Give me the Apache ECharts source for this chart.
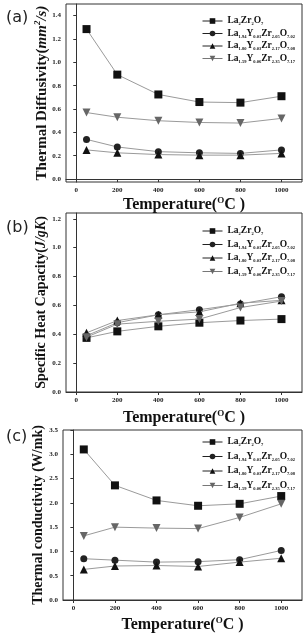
<!DOCTYPE html>
<html>
<head>
<meta charset="utf-8">
<script src="https://cdn.jsdelivr.net/npm/echarts@6/dist/echarts.min.js"></script>
<style>
  html, body { margin: 0; padding: 0; background: #fff; }
  #chart { width: 305px; height: 634px; }
</style>
</head>
<body>
<div id="chart"></div>
<script>
// 温度 (°C)
var temps = [50, 200, 400, 600, 800, 1000];
var xTicks = [0, 200, 400, 600, 800, 1000];

// 图例名称 (化学式，下标分段)
var names = ['La2Zr2O7', 'La1.94Y0.01Zr2.05O7.02', 'La1.80Y0.03Zr2.17O7.08', 'La1.59Y0.06Zr2.35O7.17'];
var formulaParts = [
    ['La', '2', 'Zr', '2', 'O', '7'],
    ['La', '1.94', 'Y', '0.01', 'Zr', '2.05', 'O', '7.02'],
    ['La', '1.80', 'Y', '0.03', 'Zr', '2.17', 'O', '7.08'],
    ['La', '1.59', 'Y', '0.06', 'Zr', '2.35', 'O', '7.17']
];

// (a) 热扩散系数
var diffLZ = [1.285, 0.895, 0.725, 0.66, 0.655, 0.71];
var diffY1 = [0.34, 0.275, 0.235, 0.225, 0.22, 0.25];
var diffY3 = [0.25, 0.225, 0.21, 0.205, 0.205, 0.22];
var diffY6 = [0.57, 0.53, 0.50, 0.485, 0.48, 0.52];
var yTicksA = [0, 0.2, 0.4, 0.6, 0.8, 1.0, 1.2, 1.4];

// (b) 比热容
var cpLZ = [0.375, 0.42, 0.455, 0.48, 0.495, 0.505];
var cpY1 = [0.39, 0.48, 0.535, 0.57, 0.61, 0.66];
var cpY3 = [0.41, 0.495, 0.535, 0.555, 0.615, 0.635];
var cpY6 = [0.38, 0.47, 0.49, 0.505, 0.585, 0.63];
var yTicksB = [0, 0.2, 0.4, 0.6, 0.8, 1.0, 1.2];

// (c) 热导率
var kLZ = [3.1, 2.36, 2.05, 1.94, 1.98, 2.14];
var kY1 = [0.85, 0.82, 0.78, 0.79, 0.83, 1.02];
var kY3 = [0.63, 0.70, 0.71, 0.69, 0.78, 0.86];
var kY6 = [1.32, 1.50, 1.48, 1.47, 1.70, 1.98];
var yTicksC = [0, 0.5, 1.0, 1.5, 2.0, 2.5, 3.0, 3.5];

var serif = '"Liberation Serif", "DejaVu Serif", serif';
var downTri = 'path://M0,0 L10,0 L5,9 Z';
var symbols = ['rect', 'circle', 'triangle', downTri];
var symSizes = [8, 7, 8, 8];
var symColors = ['#111', '#222', '#111', '#666'];

var myChart = echarts.init(document.getElementById('chart'));

function toPoints(arr) { return arr.map(function (v, i) { return [temps[i], v]; }); }

function legendFmt(name) {
    var parts = formulaParts[names.indexOf(name)];
    var s = '';
    for (var i = 0; i < parts.length; i++) {
        s += (i % 2 === 0 ? '{t|' : '{s|') + parts[i] + '}';
    }
    return s;
}

function makeLegend(top, gap) {
    return {
        orient: 'vertical',
        left: 197,
        top: top,
        itemWidth: 20,
        itemHeight: 7,
        itemGap: gap,
        data: names.map(function (n, i) {
            return { name: n, lineStyle: { color: i < 3 ? '#222' : '#777', width: 1 } };
        }),
        formatter: legendFmt,
        textStyle: {
            rich: {
                t: { fontFamily: serif, fontWeight: 'bold', fontSize: 9.5, color: '#111', lineHeight: 11 },
                s: { fontFamily: serif, fontWeight: 'bold', fontSize: 4.5, color: '#111', lineHeight: 11, verticalAlign: 'bottom', padding: [3, 0, 0, 0] }
            }
        }
    };
}

function xAxisOf(idx, gap) {
    return {
        type: 'value', gridIndex: idx, min: -50, max: 1100,
        name: '{t|Temperature(}{u|O}{t|C )}',
        nameLocation: 'middle', nameGap: gap,
        nameTextStyle: {
            rich: {
                t: { fontFamily: serif, fontWeight: 'bold', fontSize: 16, color: '#111', lineHeight: 18 },
                u: { fontFamily: serif, fontWeight: 'bold', fontSize: 9, color: '#111', lineHeight: 18, verticalAlign: 'top' }
            }
        },
        axisLine: { lineStyle: { color: '#333' } },
        axisTick: { customValues: xTicks, length: 3, lineStyle: { color: '#333' } },
        axisLabel: {
            customValues: xTicks, fontFamily: serif, fontWeight: 'bold', fontSize: 7, color: '#222', margin: 5,
            formatter: function (v) { return String(v); }
        },
        splitLine: { show: false }
    };
}

function yAxisOf(idx, min, max, ticks, name, rich, gap) {
    return {
        type: 'value', gridIndex: idx, min: min, max: max,
        name: name, nameLocation: 'middle', nameGap: gap, nameRotate: 90,
        nameMoveOverlap: false,
        nameTextStyle: { rich: rich },
        axisLine: { lineStyle: { color: '#333' } },
        axisTick: { customValues: ticks, length: 3, lineStyle: { color: '#333' } },
        axisLabel: {
            customValues: ticks, fontFamily: serif, fontWeight: 'bold', fontSize: 7, color: '#222', margin: 5,
            formatter: function (v) { return v.toFixed(1); }
        },
        splitLine: { show: false }
    };
}

var richA = {
    t: { fontFamily: serif, fontWeight: 'bold', fontSize: 15, color: '#111', lineHeight: 18 },
    i: { fontFamily: serif, fontWeight: 'bold', fontStyle: 'italic', fontSize: 15, color: '#111', lineHeight: 18 },
    u: { fontFamily: serif, fontWeight: 'bold', fontStyle: 'italic', fontSize: 9, color: '#111', lineHeight: 18, verticalAlign: 'top' }
};
var richB = {
    t: { fontFamily: serif, fontWeight: 'bold', fontSize: 14, color: '#111', lineHeight: 18 },
    i: { fontFamily: serif, fontWeight: 'bold', fontStyle: 'italic', fontSize: 14, color: '#111', lineHeight: 18 }
};
var richC = { t: { fontFamily: serif, fontWeight: 'bold', fontSize: 14, color: '#111', lineHeight: 18 } };

var dataSets = [
    [diffLZ, diffY1, diffY3, diffY6],
    [cpLZ, cpY1, cpY3, cpY6],
    [kLZ, kY1, kY3, kY6]
];

var series = [];
dataSets.forEach(function (group, g) {
    group.forEach(function (arr, k) {
        series.push({
            name: names[k],
            type: 'line',
            xAxisIndex: g, yAxisIndex: g,
            data: toPoints(arr),
            symbol: symbols[k],
            symbolSize: symSizes[k],
            itemStyle: { color: symColors[k] },
            lineStyle: { color: '#9a9a9a', width: 1 },
            z: 3 + k
        });
    });
});

var option = {
    backgroundColor: '#fff',
    animation: false,
    grid: [
        { left: 66, top: 4, right: 3, height: 178, show: true, borderColor: '#333', borderWidth: 1 },
        { left: 66, top: 213, right: 3, height: 179, show: true, borderColor: '#333', borderWidth: 1 },
        { left: 63, top: 430, right: 3, height: 173, show: true, borderColor: '#333', borderWidth: 1 }
    ],
    legend: [makeLegend(11, 2), makeLegend(221, 3), makeLegend(432, 4)],
    xAxis: [xAxisOf(0, 14), xAxisOf(1, 17), xAxisOf(2, 16)],
    yAxis: [
        yAxisOf(0, -0.025, 1.5, yTicksA, '{t|Thermal Diffusivity(}{i|mm}{u|2}{i|/s)}', richA, 15),
        yAxisOf(1, 0, 1.24, yTicksB, '{t|Specific Heat Capacity(}{i|J/gK}{t|)}', richB, 16),
        yAxisOf(2, 0, 3.5, yTicksC, '{t|Thermal conductivity (W/mk)}', richC, 16)
    ],
    graphic: [
        { type: 'text', left: 6, top: 10, style: { text: '(a)', font: '16px "DejaVu Sans", sans-serif', fill: '#222' } },
        { type: 'text', left: 6, top: 220, style: { text: '(b)', font: '16px "DejaVu Sans", sans-serif', fill: '#222' } },
        { type: 'text', left: 6, top: 429, style: { text: '(c)', font: '16px "DejaVu Sans", sans-serif', fill: '#222' } }
    ],
    series: series
};

myChart.setOption(option);
</script>
</body>
</html>
